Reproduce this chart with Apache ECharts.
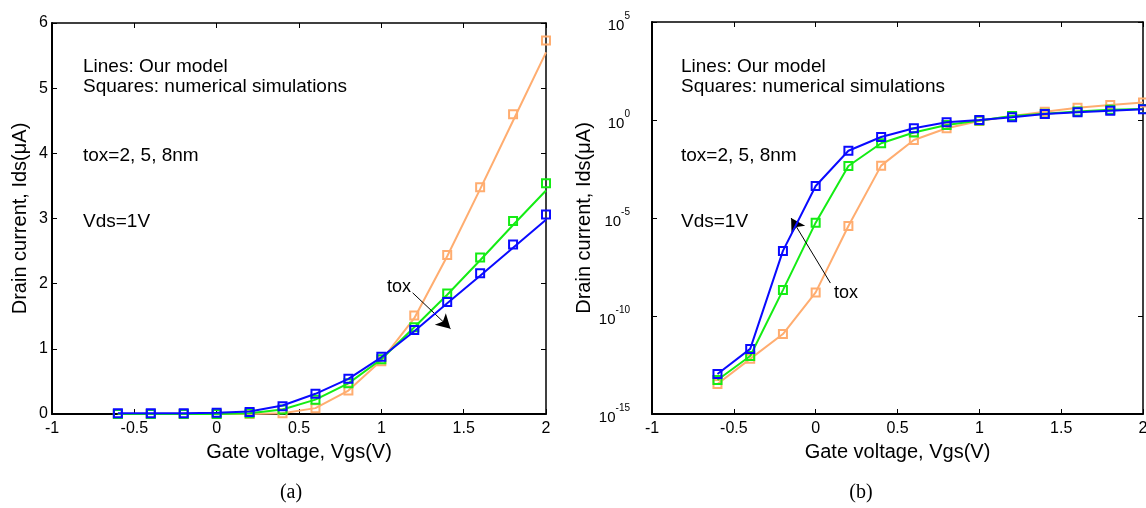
<!DOCTYPE html>
<html>
<head>
<meta charset="utf-8">
<script src="https://cdn.jsdelivr.net/npm/echarts@6.0.0/dist/echarts.min.js"></script>
<style>
  html, body { margin: 0; padding: 0; background: #fff; }
  #chart { width: 1146px; height: 508px; }
</style>
</head>
<body>
<div id="chart"></div>
<script>
// Gate voltage points (V)
const vgs = [-0.6, -0.4, -0.2, 0, 0.2, 0.4, 0.6, 0.8, 1.0, 1.2, 1.4, 1.6, 1.8, 2.0];

// (a) linear scale, uA - squares (numerical simulations)
const simA_tox2 = [0, 0, 0, 0, 0, 0.01, 0.09, 0.36, 0.81, 1.51, 2.44, 3.48, 4.60, 5.73];
const simA_tox5 = [0, 0, 0, 0, 0.01, 0.07, 0.22, 0.47, 0.84, 1.33, 1.85, 2.40, 2.96, 3.54];
const simA_tox8 = [0.01, 0.01, 0.01, 0.02, 0.03, 0.12, 0.31, 0.54, 0.88, 1.29, 1.72, 2.16, 2.60, 3.06];
// (a) lines (our model)
const modelA_tox2 = [0, 0, 0, 0, 0, 0.01, 0.09, 0.36, 0.82, 1.47, 2.42, 3.45, 4.50, 5.55];
const modelA_tox5 = [0, 0, 0, 0, 0.01, 0.07, 0.22, 0.47, 0.84, 1.33, 1.83, 2.36, 2.90, 3.43];
const modelA_tox8 = [0.01, 0.01, 0.01, 0.02, 0.04, 0.13, 0.31, 0.54, 0.87, 1.27, 1.70, 2.12, 2.55, 2.98];

// (b) log scale, uA
const ids_tox2 = [3.4e-14, 6.5e-13, 1.2e-11, 1.6e-9, 3.9e-6, 4.7e-3, 0.095, 0.38, 0.89, 1.58, 2.6, 4.2, 5.9, 7.9];
const ids_tox5 = [5.4e-14, 9.1e-13, 2.1e-9, 5.8e-6, 4.5e-3, 0.065, 0.23, 0.55, 0.95, 1.58, 2.1, 2.7, 3.3, 3.6];
const ids_tox8 = [1.1e-13, 2.1e-12, 2.1e-7, 4.3e-4, 0.027, 0.135, 0.38, 0.76, 1.0, 1.4, 2.0, 2.5, 3.0, 3.5];

// arrow annotations (data coordinates)
const arrowA = [[1.19, 1.86], [1.42, 1.31]];
const arrowB = [[0.09, 4.8e-9], [-0.15, 1e-5]];

const COLORS = { tox2: '#ffad70', tox5: '#14ec14', tox8: '#0a0aff' };
const FONT = 'Liberation Sans, Arial, sans-serif';

const zip = (xs, ys) => xs.map((x, i) => [x, ys[i]]);

function lineSeries(idx, data, color, z) {
    return {
        type: 'line', xAxisIndex: idx, yAxisIndex: idx, data: data,
        showSymbol: false, z: z, silent: true,
        lineStyle: { color: color, width: 2 }
    };
}

function squareSeries(idx, data, color, z) {
    return {
        type: 'scatter', xAxisIndex: idx, yAxisIndex: idx, data: data,
        symbol: 'rect', symbolSize: 8, z: z, silent: true,
        itemStyle: { color: 'rgba(0,0,0,0)', borderColor: color, borderWidth: 2, opacity: 1 }
    };
}

function arrowSeries(idx, arrow) {
    return {
        type: 'line', xAxisIndex: idx, yAxisIndex: idx, data: [], z: 10,
        markLine: {
            silent: true, animation: false,
            symbol: ['none', 'arrow'], symbolSize: [12, 14],
            lineStyle: { color: '#000', width: 1, type: 'solid' },
            label: { show: false },
            data: [[{ coord: arrow[0] }, { coord: arrow[1] }]]
        }
    };
}

const tick = { inside: true, length: 5, lineStyle: { color: '#000' } };

const xBottom = (gridIndex) => ({
    type: 'value', gridIndex: gridIndex, min: -1, max: 2, interval: 0.5,
    name: 'Gate voltage, Vgs(V)', nameLocation: 'middle', nameGap: 28,
    nameTextStyle: { fontFamily: FONT, fontSize: 20, color: '#000' },
    axisLine: { onZero: false, lineStyle: { color: '#000', width: 2 } },
    axisTick: tick,
    axisLabel: { fontFamily: FONT, fontSize: 16, color: '#000', margin: 7 },
    splitLine: { show: false }
});

const xTop = (gridIndex) => ({
    type: 'value', gridIndex: gridIndex, position: 'top', min: -1, max: 2, interval: 0.5,
    axisLine: { onZero: false, lineStyle: { color: '#000', width: 1.5 } },
    axisTick: tick,
    axisLabel: { show: false }, splitLine: { show: false }
});

const option = {
    animation: false,
    backgroundColor: '#fff',
    grid: [
        { left: 52, top: 23, width: 494, height: 391, outerBoundsMode: 'none', containLabel: false },
        { left: 652, top: 22, width: 491, height: 392, outerBoundsMode: 'none', containLabel: false }
    ],
    xAxis: [xBottom(0), xBottom(1), xTop(0), xTop(1)],
    yAxis: [
        {
            type: 'value', gridIndex: 0, min: 0, max: 6, interval: 1,
            name: 'Drain current, Ids(\u03bcA)', nameLocation: 'middle', nameGap: 22,
            nameTextStyle: { fontFamily: FONT, fontSize: 20, color: '#000' },
            axisLine: { onZero: false, lineStyle: { color: '#000', width: 2 } },
            axisTick: tick,
            axisLabel: { fontFamily: FONT, fontSize: 16, color: '#000', margin: 4 },
            splitLine: { show: false }
        },
        {
            type: 'log', logBase: 10, gridIndex: 1, min: 1e-15, max: 1e5, interval: 5,
            name: 'Drain current, Ids(\u03bcA)', nameLocation: 'middle', nameGap: 50,
            nameTextStyle: { fontFamily: FONT, fontSize: 20, color: '#000' },
            axisLine: { onZero: false, lineStyle: { color: '#000', width: 2 } },
            axisTick: tick,
            axisLabel: {
                margin: 22,
                formatter: (v) => '{b|10}{e|' + Math.round(Math.log10(v)) + '}',
                rich: {
                    b: { fontFamily: FONT, fontSize: 15, color: '#000', verticalAlign: 'bottom', lineHeight: 22 },
                    e: { fontFamily: FONT, fontSize: 10, color: '#000', verticalAlign: 'top', lineHeight: 22 }
                }
            },
            splitLine: { show: false }
        },
        {
            type: 'value', gridIndex: 0, position: 'right', min: 0, max: 6, interval: 1,
            axisLine: { show: true, onZero: false, lineStyle: { color: '#000', width: 1.5 } },
            axisTick: tick,
            axisLabel: { show: false }, splitLine: { show: false }
        },
        {
            type: 'log', logBase: 10, gridIndex: 1, position: 'right', min: 1e-15, max: 1e5, interval: 5,
            axisLine: { show: true, onZero: false, lineStyle: { color: '#000', width: 1.5 } },
            axisTick: tick,
            axisLabel: { show: false }, splitLine: { show: false }
        }
    ],
    series: [
        lineSeries(0, zip(vgs, modelA_tox2), COLORS.tox2, 2),
        squareSeries(0, zip(vgs, simA_tox2), COLORS.tox2, 3),
        lineSeries(0, zip(vgs, modelA_tox5), COLORS.tox5, 4),
        squareSeries(0, zip(vgs, simA_tox5), COLORS.tox5, 5),
        lineSeries(0, zip(vgs, modelA_tox8), COLORS.tox8, 6),
        squareSeries(0, zip(vgs, simA_tox8), COLORS.tox8, 7),
        arrowSeries(0, arrowA),

        lineSeries(1, zip(vgs, ids_tox2), COLORS.tox2, 2),
        squareSeries(1, zip(vgs, ids_tox2), COLORS.tox2, 3),
        lineSeries(1, zip(vgs, ids_tox5), COLORS.tox5, 4),
        squareSeries(1, zip(vgs, ids_tox5), COLORS.tox5, 5),
        lineSeries(1, zip(vgs, ids_tox8), COLORS.tox8, 6),
        squareSeries(1, zip(vgs, ids_tox8), COLORS.tox8, 7),
        arrowSeries(1, arrowB)
    ],
    graphic: []
};

// text annotations inside the plots
const notes = [
    ['Lines: Our model', 67], ['Squares: numerical simulations', 87],
    ['tox=2, 5, 8nm', 156], ['Vds=1V', 222]
];
[83, 681].forEach((x0) => {
    notes.forEach(([t, y]) => {
        option.graphic.push({
            type: 'text', x: x0, y: y, silent: true,
            style: { text: t, font: '19px ' + FONT, fill: '#000', verticalAlign: 'middle' }
        });
    });
});
option.graphic.push(
    { type: 'text', x: 387, y: 287, silent: true, style: { text: 'tox', font: '18px ' + FONT, fill: '#000', verticalAlign: 'middle' } },
    { type: 'text', x: 834, y: 293, silent: true, style: { text: 'tox', font: '18px ' + FONT, fill: '#000', verticalAlign: 'middle' } },
    { type: 'text', x: 291, y: 493, silent: true, style: { text: '(a)', font: '20px Liberation Serif, Times New Roman, serif', fill: '#000', align: 'center', verticalAlign: 'middle' } },
    { type: 'text', x: 861, y: 493, silent: true, style: { text: '(b)', font: '20px Liberation Serif, Times New Roman, serif', fill: '#000', align: 'center', verticalAlign: 'middle' } }
);

const chart = echarts.init(document.getElementById('chart'), null, { renderer: 'canvas' });
chart.setOption(option);
</script>
</body>
</html>
